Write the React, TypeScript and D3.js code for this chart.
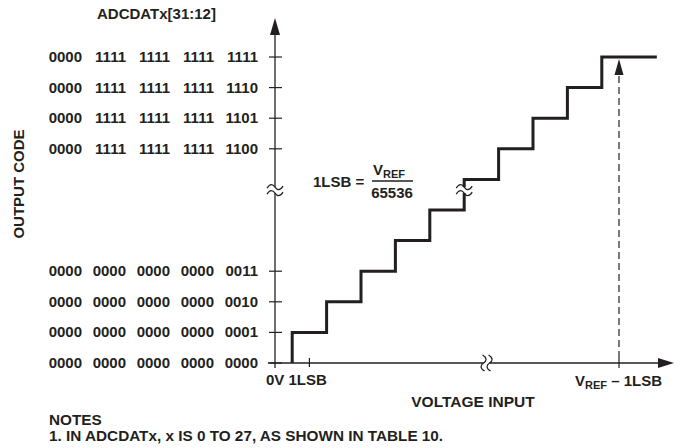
import React from 'react';
import * as d3 from 'd3';

// output codes shown on the y axis
const lowCodes = [
  '0000 0000 0000 0000 0000',
  '0000 0000 0000 0000 0001',
  '0000 0000 0000 0000 0010',
  '0000 0000 0000 0000 0011',
];
const lowLevels = [0, 1, 2, 3];
const highCodes = [
  '0000 1111 1111 1111 1100',
  '0000 1111 1111 1111 1101',
  '0000 1111 1111 1111 1110',
  '0000 1111 1111 1111 1111',
];
const highLevels = [7, 8, 9, 10];

// staircase: transition points (in LSB) and the code level reached there
const stepAt = [0.5, 1.5, 2.5, 3.5, 4.5, 5.5, 6.5, 7.5, 8.5, 9.5];
const stepLevel = [1, 2, 3, 4, 5, 6, 7, 8, 9, 10];
const stepEnd = 11.1;

const xBreak = 6.15;
const yBreak = 5.65;
const vrefMinus1 = 10;

const W = 691;
const H = 448;
const ink = '#231f20';
const font = '"Liberation Sans", Arial, sans-serif';

function Squiggle({ x, y, vertical }: { x: number; y: number; vertical?: boolean }) {
  const wave = 'M-8,1 C-5,-4 -2,-3 0,0 S5,4 8,-1';
  return (
    <g transform={`translate(${x},${y}) rotate(${vertical ? 90 : 0})`}>
      <rect x={-8} y={-3} width={16} height={6} fill="#fff" />
      <path d={wave} transform="translate(0,-3)" fill="none" stroke={ink} strokeWidth={1.2} />
      <path d={wave} transform="translate(0,3)" fill="none" stroke={ink} strokeWidth={1.2} />
    </g>
  );
}

export default function App() {
  const x = d3.scaleLinear().domain([0, 10]).range([275, 619]);
  const y = d3.scaleLinear().domain([0, 10]).range([363, 57]);

  const pts: [number, number][] = [[stepAt[0], 0]];
  stepAt.forEach((s, i) => {
    pts.push([s, i === 0 ? 0 : stepLevel[i - 1]]);
    pts.push([s, stepLevel[i]]);
  });
  pts.push([stepEnd, stepLevel[stepLevel.length - 1]]);
  const line = d3
    .line<[number, number]>()
    .x(d => x(d[0]))
    .y(d => y(d[1]));

  const x0 = x(0);
  const y0 = y(0);
  const groupEnds = [82, 126, 170, 214, 258];

  const codeLabel = (code: string, level: number, key: string) => (
    <g key={key}>
      <line x1={x0 - 6} x2={x0 + 7} y1={y(level)} y2={y(level)} stroke={ink} strokeWidth={1.2} />
      {code.split(' ').map((g, i) => (
        <text key={i} x={groupEnds[i]} y={y(level) + 5} textAnchor="end">
          {g}
        </text>
      ))}
    </g>
  );

  return (
    <svg
      width={W}
      height={H}
      style={{ position: 'absolute', left: 0, top: 0, background: '#fff' }}
      fontFamily={font}
      fontWeight="bold"
      fontSize={15}
      fill={ink}
    >
      <text x={97} y={19}>ADCDATx[31:12]</text>
      <text transform="translate(24,184) rotate(-90)" textAnchor="middle">OUTPUT CODE</text>

      {lowCodes.map((c, i) => codeLabel(c, lowLevels[i], 'l' + i))}
      {highCodes.map((c, i) => codeLabel(c, highLevels[i], 'h' + i))}

      {/* axes */}
      <line x1={x0} x2={x0} y1={y0 + 5} y2={34} stroke={ink} strokeWidth={1.3} />
      <path d={`M${x0},18 L${x0 - 5},35 L${x0 + 5},35 Z`} fill={ink} />
      <line x1={x0 - 7} x2={658} y1={y0} y2={y0} stroke={ink} strokeWidth={1.3} />
      <path d={`M674,${y0} L658,${y0 - 5} L658,${y0 + 5} Z`} fill={ink} />
      <line x1={x(1)} x2={x(1)} y1={y0 - 5} y2={y0 + 4} stroke={ink} strokeWidth={1.2} />
      <line x1={x(vrefMinus1)} x2={x(vrefMinus1)} y1={y0 - 5} y2={y0 + 5} stroke={ink} strokeWidth={1.2} />

      {/* staircase */}
      <path d={line(pts) ?? ''} fill="none" stroke={ink} strokeWidth={3} strokeLinejoin="miter" />

      {/* dashed VREF - 1LSB marker */}
      <line
        x1={x(vrefMinus1)}
        x2={x(vrefMinus1)}
        y1={y0 - 5}
        y2={74}
        stroke={ink}
        strokeWidth={1.2}
        strokeDasharray="7 4"
      />
      <path d={`M${x(vrefMinus1)},59 L${x(vrefMinus1) - 4.5},75 L${x(vrefMinus1) + 4.5},75 Z`} fill={ink} />

      {/* breaks */}
      <Squiggle x={x0} y={y(yBreak)} />
      <Squiggle x={x(stepAt[5])} y={y(yBreak)} />
      <Squiggle x={x(xBreak)} y={y0} vertical />

      {/* formula */}
      <text x={313} y={187}>1LSB =</text>
      <text x={373} y={175}>
        V<tspan fontSize={11} dy={3}>REF</tspan>
      </text>
      <line x1={372} x2={413} y1={181} y2={181} stroke={ink} strokeWidth={1.3} />
      <text x={392} y={198} textAnchor="middle">65536</text>

      {/* x labels */}
      <text x={266} y={385}>0V 1LSB</text>
      <text x={575} y={386}>
        V<tspan fontSize={11} dy={3}>REF</tspan>
        <tspan dy={-3}> – 1LSB</tspan>
      </text>
      <text x={473} y={407} textAnchor="middle" fontSize={15.5}>VOLTAGE INPUT</text>

      <text x={49} y={425} fontSize={15.3}>
        NOTES
        <tspan x={49} dy={16}>1. IN ADCDATx, x IS 0 TO 27, AS SHOWN IN TABLE 10.</tspan>
      </text>
    </svg>
  );
}
